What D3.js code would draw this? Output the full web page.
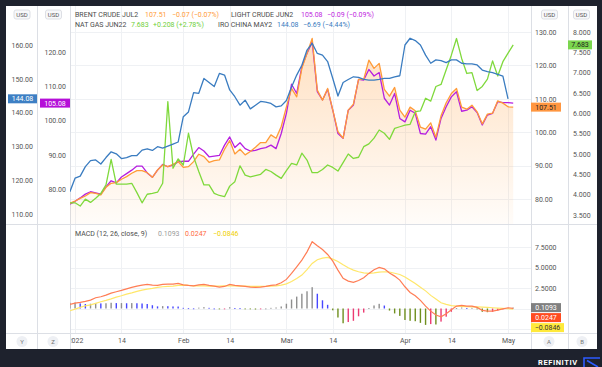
<!DOCTYPE html>
<html><head><meta charset="utf-8">
<script src="https://cdn.jsdelivr.net/npm/d3@7"></script>
<style>
html,body{margin:0;padding:0;background:#1e222d;}
svg{display:block;}
text{font-family:Roboto,"Noto Sans",sans-serif;}
</style></head><body>
<svg id="c" width="602" height="367"></svg>
<script>
// ---------- DATA ----------
const brent = [78.7,79.4,80.2,80.9,81.9,81.7,81.2,83.5,84.7,84.9,
85.9,86.7,87.7,88.5,88.5,87.9,86.5,88.7,90.2,89.7,
90.4,91.2,89.5,89.7,91.2,93.4,92.7,91.0,91.5,91.7,
94.9,97.5,93.5,94.9,93.2,94.2,95.5,96.9,96.9,99.2,
98.2,101.7,107.6,113.1,110.6,119.1,123.6,128.1,112.6,109.6,
113.1,106.6,100.2,98.2,106.6,108.4,115.8,115.8,121.6,119.1,
120.6,112.8,110.8,113.4,106.6,104.5,107.5,106.4,101.5,100.9,
102.8,98.5,104.9,108.8,111.6,113.1,107.5,106.9,108.1,106.1,
102.5,105.4,105.7,109.4,108.7,107.6,107.51];
const lightCrude = [75.6,76.4,77.4,78.5,79.2,78.9,78.5,80.6,82.4,81.8,
83.5,84.5,85.5,86.7,86.7,84.7,83.4,85.5,87.2,86.5,
87.0,87.9,88.1,88.1,90.2,92.1,91.1,89.4,89.6,89.8,
92.8,95.2,92.1,93.5,91.8,91.1,91.3,91.8,92.1,92.8,
91.8,96.2,102.1,110.6,107.9,115.7,119.6,123.0,108.4,106.0,
109.1,103.0,96.2,94.8,103.0,104.5,112.0,111.8,114.9,113.0,
114.0,106.5,104.5,107.9,100.6,99.6,103.0,102.1,96.2,96.0,
98.2,94.3,100.6,104.0,106.9,108.4,102.7,103.0,104.0,102.3,
98.7,101.6,102.1,105.5,105.2,105.2,105.08];
const natGas = [3.80,3.80,3.72,3.89,3.81,3.91,4.03,4.24,4.87,4.26,
4.26,4.26,4.28,4.05,3.80,4.01,4.03,4.06,4.28,6.29,
4.65,4.88,4.73,5.51,4.93,4.57,4.24,4.24,4.03,3.98,
3.95,4.21,4.32,4.71,4.48,4.44,4.47,4.50,4.62,4.57,
4.48,4.40,4.59,4.77,4.73,5.02,4.85,4.54,4.54,4.62,
4.73,4.67,4.58,4.79,5.00,4.89,4.92,5.18,5.25,5.39,
5.59,5.51,5.36,5.63,5.67,5.71,5.73,6.04,6.06,6.37,
6.30,6.66,6.71,7.07,7.43,7.84,7.35,6.98,7.00,6.56,
6.66,6.84,7.29,6.92,7.27,7.48,7.683];
const ironChina = [116.6,120.6,121.2,124.0,125.8,126.0,124.8,126.7,128.4,127.8,
126.4,126.7,127.3,127.3,128.9,129.3,128.8,129.9,129.5,130.1,
130.7,131.3,138.8,140.2,145.9,145.7,150.1,148.9,147.7,151.6,
151.1,146.7,144.7,142.2,143.7,141.1,142.2,143.3,143.1,142.7,
141.7,142.0,143.6,147.6,151.1,154.0,158.5,160.5,157.5,157.0,
155.1,150.1,144.9,148.9,149.8,150.6,150.4,149.8,149.6,149.6,
149.8,150.1,150.1,150.6,150.9,160.0,162.0,161.3,160.0,157.0,
154.6,155.6,155.4,154.8,155.6,155.6,154.6,154.4,154.4,154.1,
152.6,152.1,151.8,151.3,150.8,144.08,null];
const macd = [0.50,0.66,0.74,0.87,1.02,1.31,1.43,1.63,1.88,2.04,
2.21,2.40,2.57,2.73,2.85,2.94,2.85,2.81,2.94,2.98,
2.98,3.06,2.89,2.81,2.77,2.89,2.94,2.81,2.73,2.61,
2.69,2.94,2.81,2.77,2.69,2.61,2.57,2.61,2.69,2.81,
2.89,3.14,3.55,4.28,5.09,5.90,6.91,8.14,7.65,7.20,
6.59,5.78,4.68,3.67,3.34,3.18,3.42,3.75,4.28,4.72,
5.01,4.84,4.32,3.95,3.46,2.65,1.96,1.55,0.99,0.29,
-0.32,-0.80,-1.01,-0.65,-0.16,0.29,0.38,0.29,0.29,0.13,
-0.23,-0.32,-0.32,-0.20,-0.04,0.09,0.0247];
const signal = [-0.28,-0.07,0.13,0.33,0.45,0.62,0.82,0.99,1.18,1.39,
1.55,1.76,1.91,2.09,2.24,2.37,2.45,2.57,2.65,2.69,
2.73,2.81,2.85,2.81,2.77,2.77,2.75,2.73,2.73,2.73,
2.77,2.77,2.77,2.73,2.73,2.69,2.69,2.69,2.69,2.73,
2.77,2.85,3.01,3.30,3.67,4.07,4.75,5.50,5.95,6.15,
6.23,6.02,5.74,5.33,4.96,4.68,4.48,4.35,4.28,4.35,
4.44,4.48,4.45,4.30,4.15,3.85,3.45,3.05,2.60,2.15,
1.60,1.15,0.70,0.50,0.36,0.29,0.26,0.24,0.21,0.19,
0.17,0.13,0.09,0.05,0.01,-0.03,-0.0846];
const histogram = [0.70,0.72,0.62,0.55,0.58,0.68,0.62,0.64,0.70,0.66,
0.66,0.64,0.66,0.64,0.61,0.55,0.40,0.26,0.29,0.28,
0.25,0.24,0.08,0.03,0.01,0.10,0.16,0.08,0.00,-0.10,
-0.06,0.15,0.05,0.03,-0.04,-0.08,-0.12,-0.07,0.00,0.08,
0.12,0.25,0.58,1.10,1.45,1.80,2.10,2.60,1.80,1.00,
0.45,-0.22,-1.10,-1.80,-1.65,-1.50,-0.95,-0.50,0.05,0.37,
0.57,0.36,-0.25,-0.60,-0.90,-1.40,-1.50,-1.55,-1.75,-2.00,
-1.90,-1.95,-1.60,-1.00,-0.40,0.05,0.12,0.05,0.08,-0.06,
-0.40,-0.45,-0.41,-0.25,-0.05,0.08,0.1093];

const firstDate = "2021-12-31", lastDate = "2022-05-03";
const holidays = ["2022-04-15"];
const tickDates = ["2022-01-03","2022-01-14","2022-02-01","2022-02-14","2022-03-01","2022-03-14","2022-04-01","2022-04-14","2022-05-02"];
const tickLabels = ["2022","14","Feb","14","Mar","14","Apr","14","May"];
const ironTicks = [110,120,130,140,150,160];
const lightTicks = [80,90,100,110,120];
const brentTicks = [80,90,100,110,120,130];
const gasTicks = [3.5,4,4.5,5,5.5,6,6.5,7,7.5,8];
const macdTicks = [2.5,5,7.5];

// ---------- SETUP ----------
const fmtD = d3.utcFormat("%Y-%m-%d");
const dates = d3.utcDay.range(new Date(firstDate+"T00:00Z"), d3.utcDay.offset(new Date(lastDate+"T00:00Z"),1))
  .filter(d => d.getUTCDay()%6 !== 0 && !holidays.includes(fmtD(d)));
const dateKeys = dates.map(fmtD);

const C = {
  orange:"#ff9b38", purple:"#b61fe0", green:"#7fd93c", blue:"#3a7cc0",
  grid:"#eff1f4", sep:"#dcdfe5", txt:"#4c4c4c", axis:"#555"
};
const svg = d3.select("#c");
const W=602,H=367;
const L=70, R=531, TOP=6, PB=224, MB=333;

const x = d3.scaleLinear().domain([0, dates.length-1]).range([69.9, 513.2]);
const yIron = d3.scaleLinear().domain([110,160]).range([214,45]);
const yLight = d3.scaleLinear().domain([80,120]).range([189,52]);
const yBrent = d3.scaleLinear().domain([80,130]).range([199,32]);
const yGas = d3.scaleLinear().domain([3.5,8]).range([215,32]);
const yMacd = d3.scaleLinear().domain([-2.5,7.5]).range([329,247]);

svg.append("rect").attr("width",W).attr("height",H).attr("fill","#1e222d");
svg.append("rect").attr("x",6).attr("y",6).attr("width",591).attr("height",343).attr("fill","#fff");

const defs = svg.append("defs");
defs.append("clipPath").attr("id","cpMain").append("rect").attr("x",L).attr("y",TOP).attr("width",R-L).attr("height",PB-TOP);
defs.append("clipPath").attr("id","cpMacd").append("rect").attr("x",L).attr("y",PB).attr("width",R-L).attr("height",MB-PB);
defs.append("clipPath").attr("id","cpTime").append("rect").attr("x",L+1).attr("y",MB).attr("width",R-L-1).attr("height",16);
const grad = defs.append("linearGradient").attr("id","gArea").attr("gradientUnits","userSpaceOnUse")
  .attr("x1",0).attr("x2",0).attr("y1",32).attr("y2",PB);
grad.append("stop").attr("offset","0").attr("stop-color","#ff9b38").attr("stop-opacity",0.32);
grad.append("stop").attr("offset","1").attr("stop-color","#ff9b38").attr("stop-opacity",0.03);

// ---------- GRID ----------
const tickIdx = tickDates.map(t => dateKeys.indexOf(t));
const grid = svg.append("g").attr("stroke",C.grid).attr("stroke-width",1);
tickIdx.forEach(i => grid.append("line").attr("x1",Math.round(x(i))+0.5).attr("x2",Math.round(x(i))+0.5).attr("y1",TOP).attr("y2",MB));
brentTicks.forEach(v => grid.append("line").attr("x1",L).attr("x2",R).attr("y1",Math.round(yBrent(v))+0.5).attr("y2",Math.round(yBrent(v))+0.5));
[-2.5,0,2.5,5,7.5].forEach(v => grid.append("line").attr("x1",L).attr("x2",R).attr("y1",Math.round(yMacd(v))+0.5).attr("y2",Math.round(yMacd(v))+0.5));

// separators
const sep = svg.append("g").attr("stroke",C.sep).attr("stroke-width",1);
[37,70,531,568].forEach(v => sep.append("line").attr("x1",v+0.5).attr("x2",v+0.5).attr("y1",TOP).attr("y2",349));
[PB,MB].forEach(v => sep.append("line").attr("x1",6).attr("x2",597).attr("y1",v+0.5).attr("y2",v+0.5));

// ---------- MAIN PANE ----------
const main = svg.append("g").attr("clip-path","url(#cpMain)");
main.append("path").datum(brent)
  .attr("d", d3.area().x((d,i)=>x(i)).y0(PB).y1(d=>yBrent(d)))
  .attr("fill","url(#gArea)");
const mkLine = (data, y, color) => main.append("path").datum(data)
  .attr("d", d3.line().defined(d=>d!=null).x((d,i)=>x(i)).y(d=>y(d)))
  .attr("fill","none").attr("stroke",color).attr("stroke-width",1.3).attr("stroke-linejoin","round");
mkLine(lightCrude, yLight, C.purple);
mkLine(brent, yBrent, C.orange);
mkLine(natGas, yGas, C.green);
mkLine(ironChina, yIron, C.blue);

// ---------- MACD PANE ----------
const mp = svg.append("g").attr("clip-path","url(#cpMacd)");
const histColor = (h,i) => {
  const p = i>0 ? histogram[i-1] : h;
  if (h >= 0) return h >= p ? "#8f8f8f" : "#4747ff";
  return h < p ? "#6f8f1e" : "#ec3b72";
};
mp.selectAll("rect.h").data(histogram).join("rect")
  .attr("x",(d,i)=>x(i)-0.7).attr("width",1.4)
  .attr("y",d=>Math.min(yMacd(d),yMacd(0)))
  .attr("height",d=>Math.max(0.8,Math.abs(yMacd(d)-yMacd(0))))
  .attr("fill",(d,i)=>histColor(d,i));
mp.append("path").datum(signal).attr("d", d3.line().x((d,i)=>x(i)).y(d=>yMacd(d)))
  .attr("fill","none").attr("stroke","#ffe76a").attr("stroke-width",1.2);
mp.append("path").datum(macd).attr("d", d3.line().x((d,i)=>x(i)).y(d=>yMacd(d)))
  .attr("fill","none").attr("stroke","#ff7d55").attr("stroke-width",1.2);

// ---------- AXES ----------
function styleAxis(g){
  g.select(".domain").remove();
  g.selectAll("text").attr("font-size",7).attr("fill",C.axis).attr("font-family","Roboto, sans-serif");
}
svg.append("g").attr("transform","translate(33,0)")
  .call(d3.axisLeft(yIron).tickValues(ironTicks).tickSize(0).tickPadding(0).tickFormat(d3.format(".2f"))).call(styleAxis);
svg.append("g").attr("transform","translate(66,0)")
  .call(d3.axisLeft(yLight).tickValues(lightTicks).tickSize(0).tickPadding(0).tickFormat(d3.format(".2f"))).call(styleAxis);
svg.append("g").attr("transform","translate(535,0)")
  .call(d3.axisRight(yBrent).tickValues(brentTicks).tickSize(0).tickPadding(0).tickFormat(d3.format(".2f"))).call(styleAxis);
svg.append("g").attr("transform","translate(573,0)")
  .call(d3.axisRight(yGas).tickValues(gasTicks).tickSize(0).tickPadding(0).tickFormat(d3.format(".3f"))).call(styleAxis);
svg.append("g").attr("transform","translate(535,0)")
  .call(d3.axisRight(yMacd).tickValues(macdTicks).tickSize(0).tickPadding(0).tickFormat(d3.format(".4f"))).call(styleAxis);
svg.append("g").attr("clip-path","url(#cpTime)")
  .append("g").attr("transform",`translate(0,${MB})`)
  .call(d3.axisBottom(x).tickValues(tickIdx).tickSize(0).tickPadding(5).tickFormat((d,i)=>tickLabels[i])).call(styleAxis);

// ---------- PRICE LABELS ----------
function tag(x0,w,yc,fill,text,tc){
  svg.append("rect").attr("x",x0).attr("y",yc-4.5).attr("width",w).attr("height",9).attr("fill",fill);
  svg.append("text").attr("x",x0+w/2).attr("y",yc).attr("dy","0.35em").attr("text-anchor","middle")
    .attr("font-size",7).attr("fill",tc).text(text);
}
tag(8,29,yIron(ironChina[dates.length-2]),"#3d7fc4","144.08","#fff");
tag(40,30,yLight(lightCrude[dates.length-1]),"#b50fd8","105.08","#fff");
tag(531,30,yBrent(brent[dates.length-1]),"#ff9640","107.51","#222");
tag(568,24,yGas(natGas[dates.length-1]),"#7bd64e","7.683","#222");
tag(531,30,yMacd(histogram[dates.length-1]),"#808080","0.1093","#fff");
tag(531,30,yMacd(histogram[dates.length-1])+10,"#ff4b1f","0.0247","#fff");
tag(531,33,yMacd(histogram[dates.length-1])+20,"#ffe93b","−0.0846","#333");

// ---------- LEGENDS ----------
function leg(items,y){
  items.forEach(([xx,t,c]) => svg.append("text").attr("x",xx).attr("y",y).attr("dy","0.35em")
    .attr("font-size",7).attr("fill",c).text(t));
}
leg([[75,"BRENT CRUDE JUL2",C.txt],[145,"107.51",C.orange],[172,"−0.07 (−0.07%)",C.orange],
     [231,"LIGHT CRUDE JUN2",C.txt],[301,"105.08","#c026e0"],[327,"−0.09 (−0.09%)","#c026e0"]],14.5);
leg([[75,"NAT GAS JUN22",C.txt],[131,"7.683","#6fcf3a"],[153,"+0.208 (+2.78%)","#6fcf3a"],
     [218,"IRO CHINA MAY2",C.txt],[277,"144.08",C.blue],[303,"−6.69 (−4.44%)",C.blue]],25);
leg([[75,"MACD (12, 26, close, 9)",C.txt],[158,"0.1093","#9a9a9a"],[185,"0.0247","#ff6a3d"],[213,"−0.0846","#f0d000"]],234);

// USD tags
[22,53.5,549.5,581.5].forEach(cx => {
  svg.append("rect").attr("x",cx-8).attr("y",10).attr("width",16).attr("height",9).attr("rx",2)
    .attr("fill","#f7f8fa").attr("stroke","#d5d8de").attr("stroke-width",0.8);
  svg.append("text").attr("x",cx).attr("y",14.5).attr("dy","0.35em").attr("text-anchor","middle")
    .attr("font-size",6).attr("fill","#555").text("USD");
});
// bottom circles
[[22,"Y"],[53,"Z"],[549,"A"],[582,"B"]].forEach(([cx,t]) => {
  svg.append("circle").attr("cx",cx).attr("cy",341.5).attr("r",5.5).attr("fill","#eef0f4");
  svg.append("text").attr("x",cx).attr("y",341.5).attr("dy","0.35em").attr("text-anchor","middle")
    .attr("font-size",6).attr("fill","#777").text(t);
});
// branding
svg.append("text").attr("x",538).attr("y",364.5).attr("font-size",7.5).attr("font-weight","bold")
  .attr("letter-spacing",0.6).attr("fill","#fff").text("REFINITIV");
svg.append("path").attr("d","M584,367 V358 H600 M587,360.5 L598,367").attr("fill","none")
  .attr("stroke","#2d5bff").attr("stroke-width",1.6);
</script>
</body></html>
